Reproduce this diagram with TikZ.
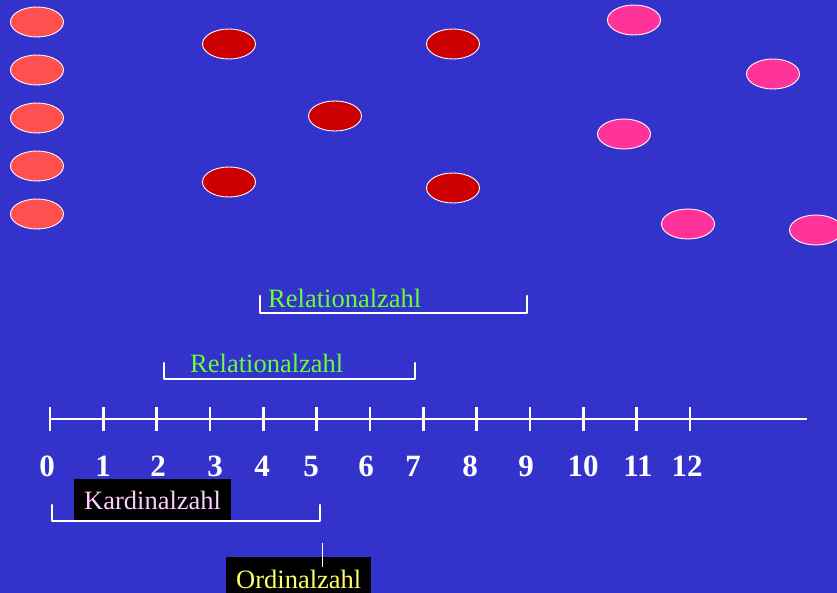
\documentclass[tikz,border=0pt]{standalone}
\usepackage{fontspec}
\setmainfont{Liberation Serif}
\usetikzlibrary{shapes.geometric}
\definecolor{bg}{HTML}{3333CC}
\definecolor{salmon}{HTML}{FF5050}
\definecolor{dred}{HTML}{CC0000}
\definecolor{pinkc}{HTML}{FF3399}
\definecolor{greent}{HTML}{66FF33}
\definecolor{lav}{HTML}{FFCCFF}
\definecolor{yel}{HTML}{FFFF66}
\begin{document}
\begin{tikzpicture}[x=1pt,y=-1pt,
  dot/.style={ellipse,draw=white,line width=0.9pt,minimum width=53pt,minimum height=30pt,inner sep=0pt},
  num/.style={font=\fontsize{31}{31}\selectfont\bfseries,text=white,anchor=base,inner sep=0pt},
  lbl/.style={font=\fontsize{26.5}{26.5}\selectfont,inner sep=0pt,anchor=base west},
  brk/.style={draw=white,line width=2.5pt,line cap=round,line join=round},
  blackbox/.style={fill=black,inner sep=0pt}]
\fill[bg] (0,0) rectangle (837,593);
\useasboundingbox (0,0) rectangle (837,593);
% salmon column
\foreach \y [count=\i] in {22,70,118,166,214}
  \node[dot,fill=salmon] (s\i) at (37,\y) {};
% dark red
\node[dot,fill=dred] (r1) at (229,44) {};
\node[dot,fill=dred] (r2) at (453,44) {};
\node[dot,fill=dred] (r3) at (335,116) {};
\node[dot,fill=dred] (r4) at (229,182) {};
\node[dot,fill=dred] (r5) at (453,188) {};
% pink
\node[dot,fill=pinkc] (p1) at (634,20) {};
\node[dot,fill=pinkc] (p2) at (773,74) {};
\node[dot,fill=pinkc] (p3) at (624,134) {};
\node[dot,fill=pinkc] (p4) at (688,224) {};
\node[dot,fill=pinkc] (p5) at (816,230) {};
% number line
\coordinate (ls) at (50,419);
\coordinate (le) at (807,419);
\draw[white,line width=2.8pt] (ls) -- (le);
\foreach \i in {0,...,12}
  \draw[white,line width=2.6pt] (50+53.33*\i,407) -- (50+53.33*\i,431);
% numbers
\foreach \n/\x in {0/47,1/103,2/158,3/215,4/262,5/311,6/366,7/413,8/470,9/526,10/583,11/638,12/687}
  \node[num] (n\n) at (\x,476) {\n};
% Relationalzahl upper
\draw[brk] (260,296) -- (260,313) -- (527,313) -- (527,296);
\node[lbl,text=greent] (rel1) at (268,307) {Relationalzahl};
% Relationalzahl lower
\draw[brk] (164,363) -- (164,379) -- (415,379) -- (415,363);
\node[lbl,text=greent] (rel2) at (190,372) {Relationalzahl};
% Kardinalzahl
\draw[brk] (52,505) -- (52,521) -- (320,521) -- (320,505);
\node[blackbox,minimum width=157pt,minimum height=41pt] (kbox) at (152.5,499.5) {};
\node[lbl,text=lav] (kard) at (84,509) {Kardinalzahl};
% Ordinalzahl
\node[blackbox,minimum width=145pt,minimum height=40pt] (obox) at (298.5,577) {};
\node[lbl,text=yel] (ord) at (236,588) {Ordinalzahl};
\coordinate (ot) at (322,543);
\draw[white,line width=0.9pt] (ot) -- (322,567);
\end{tikzpicture}
\end{document}
